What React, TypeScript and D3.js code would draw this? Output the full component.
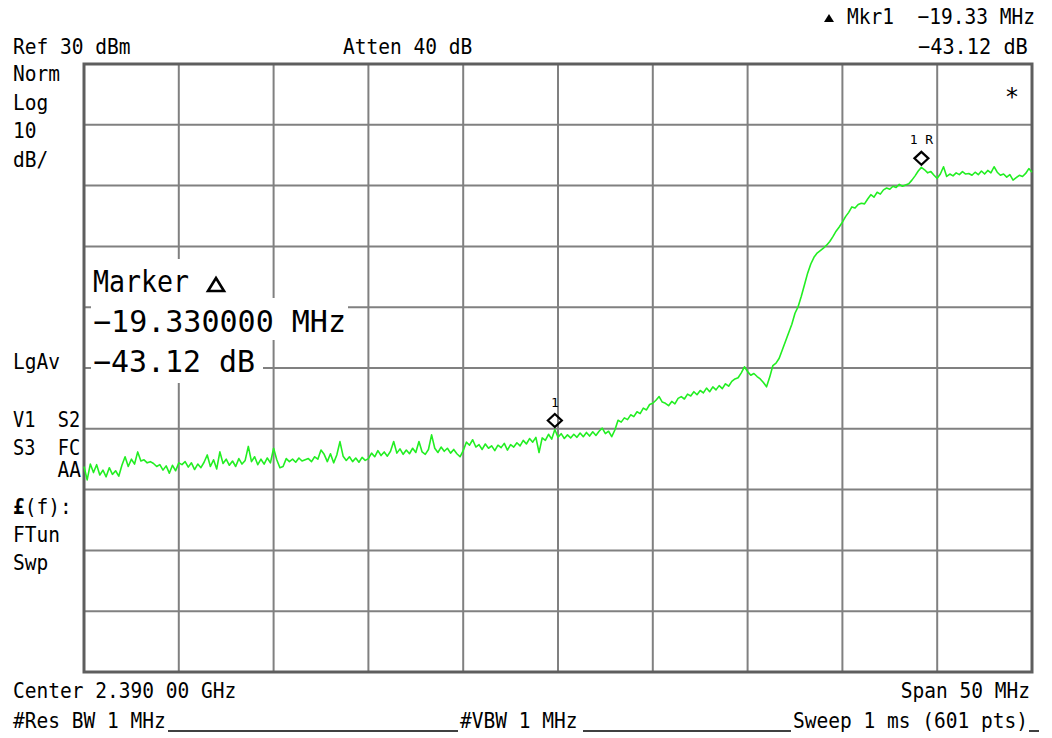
import React from "react";
import * as d3 from "d3";

// ---- data ----
const startFreqMHz = 2365;
const stopFreqMHz = 2415;
const refLevelDbm = 30;
const bottomLevelDbm = -70;
const freqDivs = [2365, 2370, 2375, 2380, 2385, 2390, 2395, 2400, 2405, 2410, 2415];
const levelDivs = [30, 20, 10, 0, -10, -20, -30, -40, -50, -60, -70];

// trace, every second of the 601 sweep points (step 1/6 MHz)
const traceDbm = [
  -36.2, -38.4, -35.8, -37.2, -35.9, -37.6, -36.8, -37.9, -36.4, -37.5,
  -36.9, -37.8, -36.0, -34.6, -36.2, -35.0, -35.8, -33.8, -35.3, -35.1,
  -35.6, -35.4, -35.7, -36.2, -35.9, -36.8, -36.1, -37.3, -36.0, -36.9,
  -35.6, -35.9, -35.4, -36.3, -35.6, -36.7, -35.8, -36.4, -35.5, -34.3,
  -36.2, -35.1, -36.6, -33.8, -35.7, -35.0, -36.0, -35.3, -36.2, -34.9,
  -35.8, -35.2, -32.9, -35.4, -34.6, -35.9, -35.0, -35.8, -34.8, -35.6,
  -33.2, -35.1, -36.4, -36.2, -34.9, -35.4, -35.0, -35.5, -34.8, -35.3,
  -35.1, -34.9, -35.4, -34.6, -35.0, -33.5, -34.2, -35.4, -34.1, -35.6,
  -34.3, -32.1, -34.5, -35.2, -34.6, -35.4, -34.8, -35.5, -34.7, -35.2,
  -34.9, -34.0, -34.6, -33.6, -34.4, -33.8, -34.5, -33.7, -32.1, -34.0,
  -33.3, -34.2, -33.5, -34.1, -33.2, -33.9, -32.1, -33.8, -34.2, -33.4,
  -31.0, -33.2, -33.9, -33.0, -33.7, -33.2, -34.0, -33.4, -34.1, -34.6,
  -33.6, -32.2, -32.7, -31.8, -33.0, -32.6, -33.4, -32.5, -33.2, -32.8,
  -33.6, -32.7, -33.1, -32.4, -33.5, -32.6, -33.0, -32.3, -32.8, -31.9,
  -32.5, -31.6, -32.2, -31.4, -33.9, -31.5, -31.9, -30.9, -31.7, -30.12,
  -31.4, -30.8, -31.6, -31.0, -31.5, -30.9, -31.4, -30.7, -31.3, -30.6,
  -31.2, -30.5, -31.1, -30.4, -29.9, -30.8, -30.4, -31.3, -30.2, -28.6,
  -28.9, -28.2, -28.5, -27.7, -28.0, -27.2, -27.5, -26.6, -26.9, -26.0,
  -25.8, -25.3, -24.7, -25.6, -25.8, -26.2, -25.5, -25.9, -25.0, -24.7,
  -25.1, -24.3, -24.6, -23.9, -24.4, -23.7, -24.1, -23.3, -23.9, -23.1,
  -23.6, -22.9, -23.4, -22.6, -23.0, -22.2, -21.8, -21.6, -20.8, -19.8,
  -20.6, -21.2, -20.9, -21.4, -21.8, -22.4, -23.1, -21.5, -19.6, -19.2,
  -18.4, -17.0, -15.6, -14.2, -12.8, -11.0, -9.9, -8.2, -6.3, -4.4,
  -2.9, -1.8, -1.1, -0.7, -0.3, 0.2, 0.8, 1.6, 2.5, 3.2,
  4.0, 4.9, 5.6, 6.5, 6.3, 6.9, 7.1, 7.0, 7.8, 8.5,
  8.1, 8.9, 8.6, 9.3, 9.6, 9.4, 9.9, 9.7, 10.2, 9.9,
  10.1, 10.3, 10.9, 11.6, 12.4, 13.0, 12.6, 12.1, 12.3, 11.7,
  11.2, 11.9, 13.1, 11.5, 11.9, 11.6, 12.1, 11.8, 12.3, 11.9,
  12.0, 11.7, 12.2, 11.8, 12.4, 11.9, 12.5, 12.1, 13.1, 12.2,
  11.7, 11.9, 11.4, 11.8, 10.9, 11.3, 11.7, 11.5, 12.0, 12.8,
  12.2,
];

const markerIndices = [149, 265];
const markerLabels = ["1", "1 R"];

const leftLabels = ["Norm", "Log", "10", "dB/"];
const statusLabels = ["V1  S2", "S3  FC"];
const lowerLabels = ["FTun", "Swp"];
const markerBoxLines = ["Marker", "\u221219.330000 MHz", "\u221243.12 dB"];
const markerBoxWidths = [96, 253, 162];

// ---- layout ----
const W = 1052;
const H = 738;
const L = 84;
const R = 1032;
const T = 64;
const B = 672;
const MONO = "'DejaVu Sans Mono', 'Liberation Mono', monospace";
const CW = 11.75;

function Txt({ x, y, s, anchor = "start", size = 21, cw = CW, len, bold = false }: any) {
  return (
    <text
      x={x}
      y={y}
      fontFamily={MONO}
      fontSize={size}
      fontWeight={bold ? "bold" : "normal"}
      textAnchor={anchor}
      textLength={len ?? s.length * cw}
      lengthAdjust="spacingAndGlyphs"
      fill="#000"
      style={{ whiteSpace: "pre" }}
    >
      {s}
    </text>
  );
}

export default function App() {
  const x = d3.scaleLinear().domain([startFreqMHz, stopFreqMHz]).range([L, R]);
  const y = d3.scaleLinear().domain([bottomLevelDbm, refLevelDbm]).range([B, T]);
  const step = (stopFreqMHz - startFreqMHz) / (traceDbm.length - 1);
  const pts: [number, number][] = traceDbm.map((v, i) => [startFreqMHz + i * step, v]);
  const line = d3
    .line<[number, number]>()
    .x((d) => x(d[0]))
    .y((d) => y(d[1]));

  return (
    <div style={{ position: "absolute", left: 0, top: 0, width: W, height: H, background: "#fff" }}>
      <svg width={W} height={H} viewBox={`0 0 ${W} ${H}`} style={{ display: "block" }}>
        <rect x={0} y={0} width={W} height={H} fill="#fff" />
        {/* grid */}
        {freqDivs.slice(1, -1).map((f) => (
          <line key={"v" + f} x1={x(f)} x2={x(f)} y1={T} y2={B} stroke="#808080" strokeWidth={2} />
        ))}
        {levelDivs.slice(1, -1).map((l) => (
          <line key={"h" + l} x1={L} x2={R} y1={y(l)} y2={y(l)} stroke="#808080" strokeWidth={2} />
        ))}
        <rect x={L} y={T} width={R - L} height={B - T} fill="none" stroke="#5e5e5e" strokeWidth={3} />

        {/* trace */}
        <path d={line(pts) || ""} fill="none" stroke="#22ee22" strokeWidth={1.6} strokeLinejoin="round" />

        {/* markers */}
        {markerIndices.map((idx, k) => {
          const mx = x(pts[idx][0]);
          const my = y(pts[idx][1]);
          const cy = my - 9;
          return (
            <g key={"m" + k}>
              <path
                d={`M${mx},${cy - 6.5} L${mx + 7},${cy} L${mx},${cy + 6.5} L${mx - 7},${cy} Z`}
                fill="none"
                stroke="#000"
                strokeWidth={2.2}
              />
              <text
                x={mx}
                y={cy - 14}
                fontFamily={MONO}
                fontSize={13}
                textAnchor="middle"
                fill="#000"
                style={{ whiteSpace: "pre" }}
              >
                {markerLabels[k]}
              </text>
            </g>
          );
        })}

        {/* marker readout box */}
        <rect x={91} y={259} width={150} height={40} fill="#fff" />
        <rect x={91} y={298} width={257} height={42} fill="#fff" />
        <rect x={91} y={339} width={172} height={44} fill="#fff" />
        {markerBoxLines.map((s, i) => (
          <Txt key={"mb" + i} x={93} y={291.5 + i * 40} s={s} size={30} len={markerBoxWidths[i]} />
        ))}
        <path d="M208,291 L216,278 L224,291 Z" fill="none" stroke="#000" strokeWidth={2.6} strokeLinejoin="miter" />

        {/* header */}
        <Txt x={13} y={54} s="Ref 30 dBm" />
        <Txt x={343} y={54} s="Atten 40 dB" />
        <path d="M824,22 L829,14 L834,22 Z" fill="#000" />
        <Txt x={847} y={24} s={"Mkr1  \u221219.33 MHz"} />
        <Txt x={918} y={54} s={"\u221243.12 dB"} cw={12.2} />
        <text x={1012} y={105} fontFamily={MONO} fontSize={24} textAnchor="middle" fill="#000">*</text>

        {/* left annotations */}
        {leftLabels.map((s, i) => (
          <Txt key={"ll" + i} x={13} y={81 + i * 28.7} s={s} />
        ))}
        <Txt x={13} y={369} s="LgAv" />
        {statusLabels.map((s, i) => (
          <Txt key={"sl" + i} x={13} y={426.5 + i * 28.5} s={s} cw={11.2} />
        ))}
        <Txt x={81} y={477} s="AA" anchor="end" />
        <text x={13} y={514} fontFamily={MONO} fontSize={21} fill="#000" textLength={5 * CW} lengthAdjust="spacingAndGlyphs">
          <tspan fontWeight="bold">£</tspan>(f):
        </text>
        {lowerLabels.map((s, i) => (
          <Txt key={"lw" + i} x={13} y={541.5 + i * 28} s={s} />
        ))}

        {/* footer */}
        <Txt x={13} y={698} s="Center 2.390 00 GHz" />
        <Txt x={1030} y={698} s="Span 50 MHz" anchor="end" />
        <Txt x={13} y={728} s="#Res BW 1 MHz" />
        <line x1={168} x2={458} y1={731} y2={731} stroke="#000" strokeWidth={1.5} />
        <Txt x={460} y={728} s="#VBW 1 MHz" />
        <line x1={583} x2={791} y1={731} y2={731} stroke="#000" strokeWidth={1.5} />
        <Txt x={793} y={728} s="Sweep 1 ms (601 pts)" />
        <line x1={1029} x2={1039} y1={731} y2={731} stroke="#000" strokeWidth={1.5} />
      </svg>
    </div>
  );
}
